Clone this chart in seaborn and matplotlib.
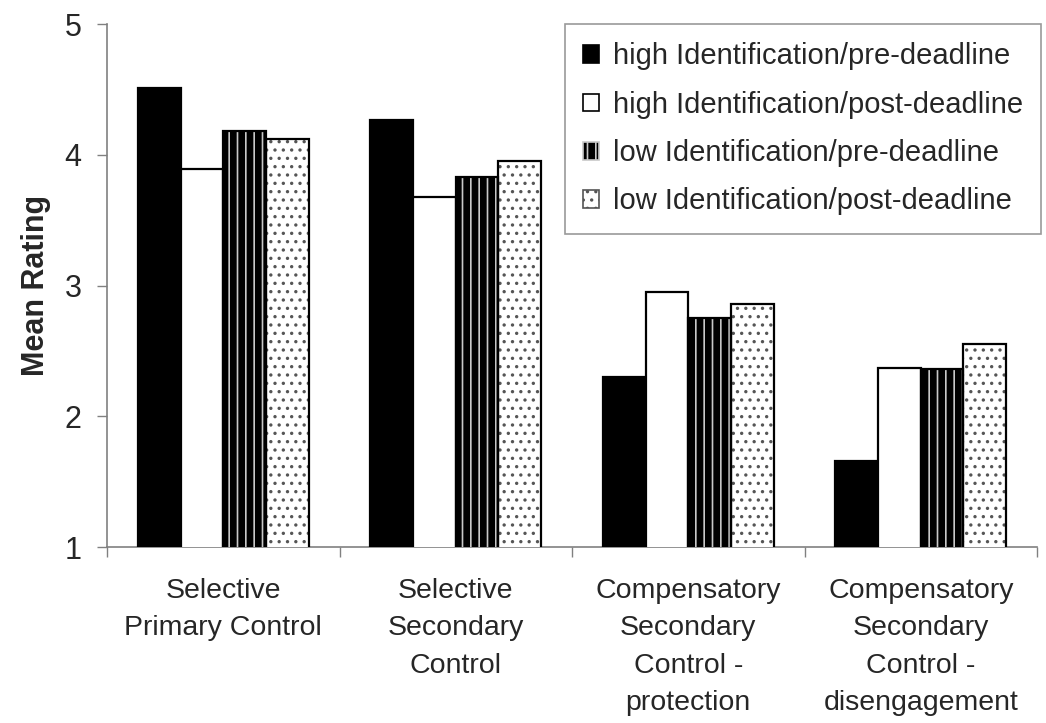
import matplotlib
matplotlib.use("Agg")
import matplotlib.pyplot as plt
from matplotlib.patches import Rectangle
import seaborn as sns
import pandas as pd

categories = [
    "Selective\nPrimary Control",
    "Selective\nSecondary\nControl",
    "Compensatory\nSecondary\nControl -\nprotection",
    "Compensatory\nSecondary\nControl -\ndisengagement",
]
conditions = [
    "high Identification/pre-deadline",
    "high Identification/post-deadline",
    "low Identification/pre-deadline",
    "low Identification/post-deadline",
]
high_pre = [4.51, 4.27, 2.30, 1.66]
high_post = [3.89, 3.68, 2.95, 2.37]
low_pre = [4.18, 3.83, 2.75, 2.36]
low_post = [4.12, 3.95, 2.86, 2.55]
y_ticks = [1, 2, 3, 4, 5]

sns.set_theme(style="white")
plt.rcParams["font.family"] = ["Liberation Sans", "DejaVu Sans"]
plt.rcParams["hatch.linewidth"] = 1.2

rows = []
for cond, vals in zip(conditions, [high_pre, high_post, low_pre, low_post]):
    for cat, v in zip(categories, vals):
        rows.append({"category": cat, "condition": cond, "rating": v})
df = pd.DataFrame(rows)

fig = plt.figure(figsize=(10.46, 7.23), dpi=100)
ax = fig.add_axes([0.1023, 0.2434, 0.8891, 0.7232])

sns.barplot(data=df, x="category", y="rating", hue="condition",
            order=categories, hue_order=conditions,
            palette=["black"] * 4, width=0.735, gap=0,
            ax=ax, legend=False)

# face / hatch styles per condition
styles = [
    dict(fc="black", ec="black", hatch=None),
    dict(fc="white", ec="black", hatch=None),
    dict(fc="black", ec="#c8c8c8", hatch="||"),
    dict(fc="white", ec="#555555", hatch=".."),
]
ncat = len(categories)
for i, container in enumerate(ax.containers):
    st = styles[i]
    for bar in container:
        bar.set_facecolor(st["fc"])
        bar.set_edgecolor(st["ec"])
        bar.set_linewidth(0 if st["hatch"] else 1.6)
        if st["hatch"]:
            bar.set_hatch(st["hatch"])
            ax.add_patch(Rectangle(bar.get_xy(), bar.get_width(), bar.get_height(),
                                   fill=False, ec="black", lw=1.6, zorder=bar.get_zorder() + 0.1))

ax.set_ylim(1, 5)
ax.set_xlim(-0.5, ncat - 0.5)
ax.set_yticks(y_ticks)
ax.set_yticklabels([str(t) for t in y_ticks])
ax.set_ylabel("Mean Rating", fontsize=22, fontweight="bold", labelpad=10)
ax.set_xlabel("")

for s in ["top", "right"]:
    ax.spines[s].set_visible(False)
for s in ["left", "bottom"]:
    ax.spines[s].set_color("#808080")
    ax.spines[s].set_linewidth(1.2)
    ax.spines[s].set_zorder(0.5)

ax.tick_params(axis="y", which="major", direction="out", length=7.2, width=1.0,
               color="#808080", labelsize=22, pad=11, left=True)
ax.tick_params(axis="x", which="major", length=0, labelsize=20.5, pad=22)
ax.set_xticks([c - 0.5 for c in range(ncat + 1)], minor=True)
ax.tick_params(axis="x", which="minor", direction="out", length=7.2, width=1.0,
               color="#808080", bottom=True)
for lbl in ax.get_xticklabels():
    lbl.set_linespacing(1.58)
    lbl.set_verticalalignment("top")

handles = [Rectangle((0, 0), 1, 1, fc=st["fc"], ec=st["ec"] if st["hatch"] else "black",
                     hatch=st["hatch"], lw=1.2) for st in styles]
leg = ax.legend(handles, conditions, loc="upper right", bbox_to_anchor=(1.004, 1.0),
                fontsize=21, frameon=True, fancybox=False, shadow=False,
                handlelength=0.55, handleheight=0.55, handletextpad=0.45,
                labelspacing=0.7, borderpad=0.62, borderaxespad=0)
leg.get_frame().set_edgecolor("#808080")
leg.get_frame().set_linewidth(1.2)

fig.savefig("out.png", dpi=100)
